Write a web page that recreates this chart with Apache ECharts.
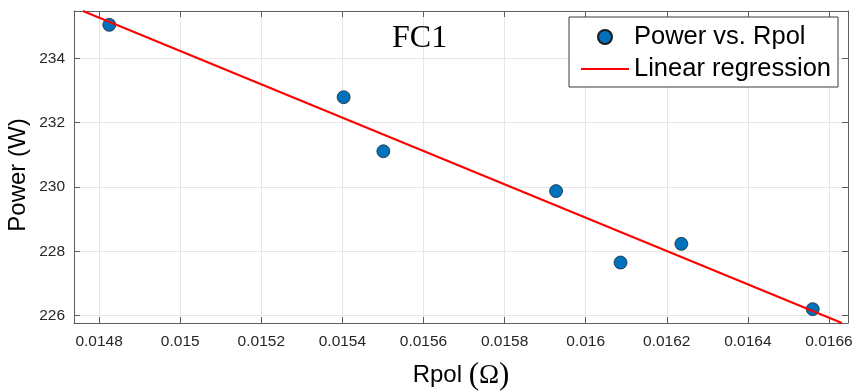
<!DOCTYPE html>
<html>
<head>
<meta charset="utf-8">
<script src="https://cdn.jsdelivr.net/npm/echarts@6/dist/echarts.min.js"></script>
<style>
  html, body { margin: 0; padding: 0; background: #fff; }
  #chart { width: 855px; height: 392px; }
</style>
</head>
<body>
<div id="chart"></div>
<script>
// measured points
const rpolValues = [0.014825, 0.015403, 0.015501, 0.015927, 0.016086, 0.016236, 0.01656];
const powerValues = [235.04, 232.79, 231.11, 229.87, 227.65, 228.23, 226.2];

// regression line, read at the plot edges
const fitX = [0.01476, 0.016632];
const fitY = [235.47, 225.77];

const xTicks = [0.0148, 0.015, 0.0152, 0.0154, 0.0156, 0.0158, 0.016, 0.0162, 0.0164, 0.0166];
const yTicks = [226, 228, 230, 232, 234];

const xMin = 0.014738, xMax = 0.016647;
const yMin = 225.77, yMax = 235.47;

const axisColor = '#5e5e5e';
const gridColor = '#e6e6e6';
const labelFont = 'Liberation Sans';

var myChart = echarts.init(document.getElementById('chart'));

function xAxisCfg(top) {
    return {
        type: 'value',
        position: top ? 'top' : 'bottom',
        min: xMin,
        max: xMax,
        axisLine: { show: true, onZero: false, lineStyle: { color: axisColor, width: 1 } },
        axisTick: { show: true, inside: true, length: 6, customValues: xTicks, lineStyle: { color: axisColor } },
        axisLabel: {
            show: !top,
            customValues: xTicks,
            margin: 11,
            color: '#262626',
            fontSize: 15.5,
            fontFamily: labelFont,
            formatter: v => String(+v.toFixed(5))
        },
        splitLine: { show: !top, lineStyle: { color: gridColor, width: 1 } }
    };
}

function yAxisCfg(right) {
    return {
        type: 'value',
        position: right ? 'right' : 'left',
        min: yMin,
        max: yMax,
        axisLine: { show: true, onZero: false, lineStyle: { color: axisColor, width: 1 } },
        axisTick: { show: true, inside: true, length: 6, customValues: yTicks, lineStyle: { color: axisColor } },
        axisLabel: {
            show: !right,
            customValues: yTicks,
            margin: 9,
            color: '#262626',
            fontSize: 15.5,
            fontFamily: labelFont
        },
        splitLine: { show: !right, lineStyle: { color: gridColor, width: 1 } }
    };
}

const xMain = xAxisCfg(false);
xMain.name = '{a|Rpol }{p|(}{b|Ω}{p|)}';
xMain.nameLocation = 'middle';
xMain.nameGap = 37;
xMain.nameMoveOverlap = false;
xMain.nameTextStyle = {
    rich: {
        a: { fontSize: 24, fontFamily: labelFont, color: '#000' },
        p: { fontSize: 31, fontFamily: 'Liberation Serif', color: '#000' },
        b: { fontSize: 27, fontFamily: 'Liberation Serif', color: '#000' }
    }
};

const yMain = yAxisCfg(false);
yMain.name = 'Power (W)';
yMain.nameLocation = 'middle';
yMain.nameGap = 44;
yMain.nameMoveOverlap = false;
yMain.nameTextStyle = { fontSize: 24, fontFamily: labelFont, color: '#000', padding: [0, 16, 0, 0] };

const scatterData = rpolValues.map((x, i) => [x, powerValues[i]]);
const fitData = fitX.map((x, i) => [x, fitY[i]]);

let option = {
    animation: false,
    backgroundColor: '#fff',
    title: {
        text: 'FC1',
        left: 392,
        top: 23,
        padding: 0,
        textStyle: { fontFamily: 'Liberation Serif', fontWeight: 'normal', fontSize: 32, color: '#000' }
    },
    grid: { left: 74, right: 7, top: 11, bottom: 69, containLabel: false, outerBoundsMode: 'none' },
    xAxis: [xMain, xAxisCfg(true)],
    yAxis: [yMain, yAxisCfg(true)],
    legend: {
        orient: 'vertical',
        left: 569,
        top: 17,
        padding: [7, 7, 5, 11],
        itemGap: 6,
        itemWidth: 48,
        itemHeight: 14,
        backgroundColor: '#fff',
        borderColor: '#3a3a3a',
        borderWidth: 1,
        borderRadius: 0,
        textStyle: { fontSize: 25.5, fontFamily: labelFont, color: '#000' },
        data: [
            { name: 'Power vs. Rpol' },
            { name: 'Linear regression', itemStyle: { opacity: 0 } }
        ]
    },
    series: [
        {
            name: 'Power vs. Rpol',
            type: 'scatter',
            data: scatterData,
            symbol: 'circle',
            symbolSize: 13,
            itemStyle: { color: '#0072BD', borderColor: '#1a1a1a', borderWidth: 0.7, opacity: 1 },
            z: 3
        },
        {
            name: 'Linear regression',
            type: 'line',
            data: fitData,
            showSymbol: false,
            symbol: 'none',
            clip: true,
            lineStyle: { color: '#ff0000', width: 2 },
            itemStyle: { color: '#ff0000' },
            z: 4
        }
    ]
};
myChart.setOption(option);
</script>
</body>
</html>
